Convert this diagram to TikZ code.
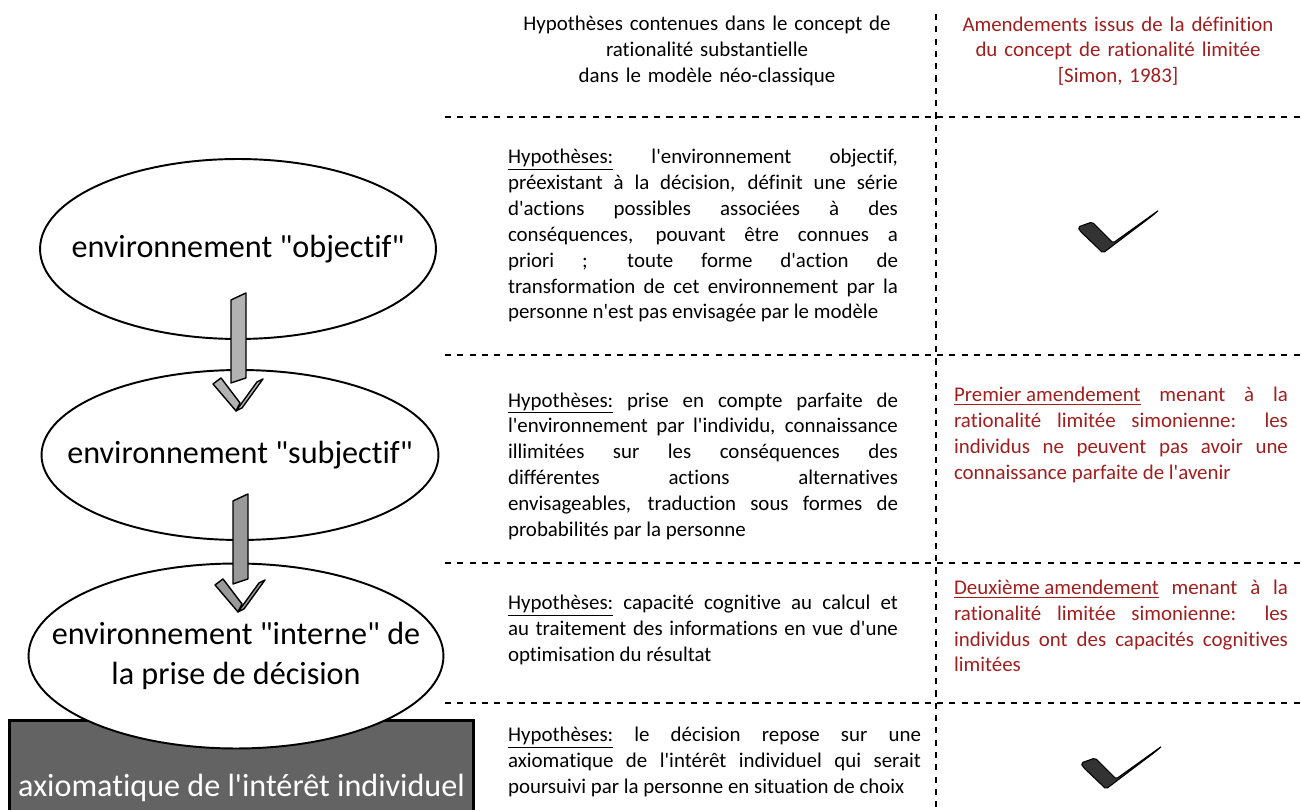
\documentclass[tikz,border=0pt]{standalone}
\usepackage{fontspec}
\setmainfont{Carlito}[Ligatures={TeXOff,CommonOff}]
\usepackage{xcolor}
\usetikzlibrary{shapes.geometric, calc}
\definecolor{darkred}{RGB}{160,30,30}

\newcommand{\grayarrow}[2]{% #1 from node, #2 fill
  \begin{scope}[shift={(#1.south)}]
    \draw[shaft, fill=#2] (-7,-40) -- (8,-47) -- (8,38) -- (-7,43) -- cycle;
    \draw[shaft, fill=#2] (-25,44) -- (-17,38) -- (2,63) -- (-2,71) -- cycle;
    \draw[shaft, fill=#2] (-2,71) -- (19,42) -- (25,39) -- (4,68) -- cycle;
  \end{scope}}

\tikzset{coche/.pic={
  \draw[fill=black!80, line width=0.6pt, rounded corners=1pt]
    (-40,-5) -- (-26,-10) -- (-5,11) -- (41,-22) -- (34,-16) -- (-15,21) -- (-38,-1) -- cycle;}}

\begin{document}
\begin{tikzpicture}[x=0.02cm, y=-0.02cm,
    ell/.style={draw, ellipse, fill=white, line width=1.1pt, inner xsep=-3cm, inner ysep=0pt, align=center, font=\fontsize{18.3}{22.7}\selectfont},
    hyp/.style={align=justify, inner sep=0pt, text width=7.8cm, font=\fontsize{11.9}{14.7}\selectfont},
    amd/.style={hyp, text width=6.68cm, text=darkred},
    sep/.style={line width=0.8pt, dash pattern=on 3.5pt off 3.5pt},
    shaft/.style={draw, line width=0.8pt, line join=round}
]
\useasboundingbox (0,0) rectangle (1301,810);

% table rules
\draw[sep] (936,14) -- (936,810);
\foreach \y in {117,355,563,703}
  \draw[sep] (445,\y) -- (1301,\y);

% headers
\node[hyp, align=center] (hdl) at (707,51) {Hypothèses contenues dans le concept de\\rationalité substantielle\\dans le modèle néo-classique};
\node[amd, align=center] (hdr) at (1118,51) {Amendements issus de la définition\\du concept de rationalité limitée\\{[Simon, 1983]}};

% hypotheses
\node[hyp] (h1) at (703,236) {\underline{Hypothèses:} l'environnement objectif,\linebreak préexistant à la décision, définit une série\linebreak d'actions possibles associées à des\linebreak conséquences, pouvant être connues a\linebreak priori ; toute forme d'action de\linebreak transformation de cet environnement par la\linebreak personne n'est pas envisagée par le modèle};
\node[hyp] (h2) at (703,466) {\underline{Hypothèses:} prise en compte parfaite de\linebreak l'environnement par l'individu, connaissance\linebreak illimitées sur les conséquences des\linebreak différentes actions alternatives\linebreak envisageables, traduction sous formes de\linebreak probabilités par la personne};
\node[hyp] (h3) at (703,630) {\underline{Hypothèses:} capacité cognitive au calcul et\linebreak au traitement des informations en vue d'une\linebreak optimisation du résultat};
\node[hyp, text width=8.26cm] (h4) at (714.5,762) {\underline{Hypothèses:} le décision repose sur une\linebreak axiomatique de l'intérêt individuel qui serait\linebreak poursuivi par la personne en situation de choix};

% amendements
\pic at (1118,232) {coche};
\node[amd] (a2) at (1121,435) {\underline{Premier amendement} menant à la\linebreak rationalité limitée simonienne: les\linebreak individus ne peuvent pas avoir une\linebreak connaissance parfaite de l'avenir};
\node[amd] (a3) at (1121,626) {\underline{Deuxième amendement} menant à la\linebreak rationalité limitée simonienne: les\linebreak individus ont des capacités cognitives\linebreak limitées};
\pic at (1121,768) {coche};

% left column
\node[draw, line width=1.7pt, fill=black!61, text=white, minimum width=9.3cm, minimum height=2.72cm, inner sep=0pt, font=\fontsize{18.3}{22.7}\selectfont] (axio) at (241.5,788) {axiomatique de l'intérêt individuel};
\node[ell, minimum width=7.92cm, minimum height=3.6cm] (obj) at (238,249) {environnement "objectif"};
\node[ell, minimum width=7.94cm, minimum height=3.4cm] (subj) at (240,455) {environnement "subjectif"};
\node[ell, minimum width=8.3cm, minimum height=3.7cm] (intern) at (236,656) {environnement "interne" de\\la prise de décision};

\grayarrow{obj}{black!30}
\grayarrow{subj}{black!40}
\end{tikzpicture}
\end{document}
